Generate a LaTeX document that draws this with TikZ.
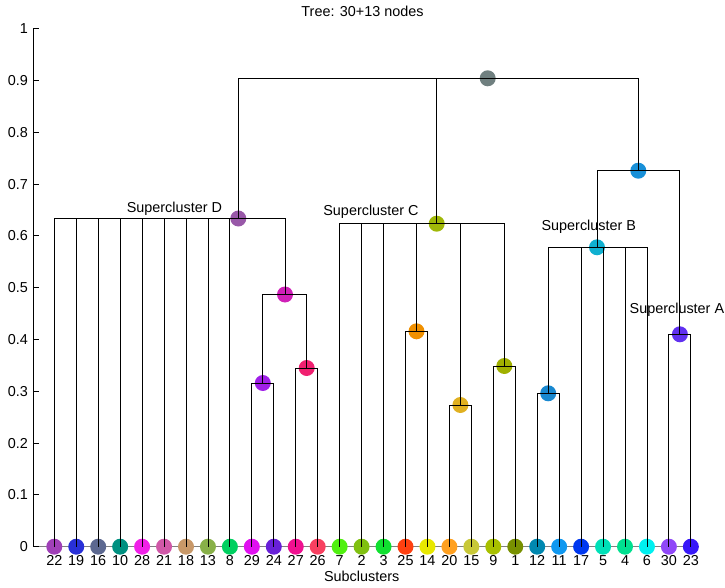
\documentclass[tikz,border=0pt]{standalone}
\usepackage{fontspec}
\setmainfont{Liberation Sans}
\begin{document}
\begin{tikzpicture}[x=1pt,y=-1pt,
  dot/.style={circle,inner sep=0pt,minimum size=16pt,draw=none},
  txt/.style={font=\fontsize{14.4}{17}\selectfont,inner sep=0pt,anchor=base},
  ticklbl/.style={txt,anchor=base east},
  br/.style={line width=0.9pt,black},
  axisline/.style={line width=0.9pt,black}]
\useasboundingbox (0,0) rectangle (725,588);
% colours of the internal nodes
\definecolor{cRoot}{HTML}{708080}
\definecolor{cD}{HTML}{9858A8}
\definecolor{cN486}{HTML}{D020B8}
\definecolor{cN316}{HTML}{A020E8}
\definecolor{cN345}{HTML}{F02070}
\definecolor{cC}{HTML}{A0B808}
\definecolor{cN416}{HTML}{F09000}
\definecolor{cN275}{HTML}{E0B020}
\definecolor{cN349}{HTML}{A0B000}
\definecolor{cN725}{HTML}{1890D8}
\definecolor{cB}{HTML}{10B0D0}
\definecolor{cA}{HTML}{6030F0}
\definecolor{cN297}{HTML}{1888D0}
% title and axis label
\node[txt] (title) at (362.5,17) {Tree: 30+13 nodes};
\node[txt] (xlabel) at (361.7,581.7) {Subclusters};
% baseline and axis
\draw[line width=0.9pt,black!50] (33,546.7) -- (690.85,546.7);
\draw[axisline] (33,29) -- (33,546.7);
\foreach \k/\t in {0/0,1/0.1,2/0.2,3/0.3,4/0.4,5/0.5,6/0.6,7/0.7,8/0.8,9/0.9,10/1}{
  \draw[axisline] (33,{546.7-51.8*\k}) -- (39,{546.7-51.8*\k});
  \node[ticklbl] at (28,{546.7-51.8*\k+5}) {\t};
}
% leaves
\foreach \i/\n/\c in {0/22/A040B8,1/19/2830D8,2/16/5C6890,3/10/009080,4/28/F020E8,
  5/21/D058A8,6/18/C89868,7/13/88B048,8/8/00D060,9/29/E010F0,10/24/6820D8,
  11/27/F01090,12/26/F84060,13/7/50F010,14/2/80C010,15/3/10E030,16/25/FF4010,
  17/14/E8E800,18/20/FFA020,19/15/C8C838,20/9/A8C000,21/1/789000,22/12/0088B0,
  23/11/1098F0,24/17/0038F0,25/5/00E0B8,26/4/00E090,27/6/00F0F0,28/30/9048F8,
  29/23/3818F8}{
  \definecolor{lc}{HTML}{\c}
  \node[dot,fill=lc] (L\n) at ({54.3+21.95*\i},546.7) {};
  \node[txt] (T\n) at ({54.3+21.95*\i},565.3) {\n};
}
% internal nodes
\node[dot,fill=cRoot] (r) at (487.7,78.3) {};
\node[dot,fill=cD] (D) at (238.3,218.5) {};
\node[dot,fill=cN486] (n486) at (285,294.5) {};
\node[dot,fill=cN316] (n316) at (262.8,383) {};
\node[dot,fill=cN345] (n345) at (306.7,368) {};
\node[dot,fill=cC] (C) at (436.7,223.7) {};
\node[dot,fill=cN416] (n416) at (416.5,331.3) {};
\node[dot,fill=cN275] (n275) at (460.4,405) {};
\node[dot,fill=cN349] (n349) at (504.3,366) {};
\node[dot,fill=cN725] (n725) at (638.3,170.7) {};
\node[dot,fill=cB] (B) at (597,247.3) {};
\node[dot,fill=cN297] (n297) at (548.2,393.3) {};
\node[dot,fill=cA] (A) at (679.9,334.3) {};
% supercluster labels
\node[txt] (lD) at (174.4,212.3) {Supercluster D};
\node[txt] (lC) at (371,215) {Supercluster C};
\node[txt] (lB) at (588.8,230) {Supercluster B};
\node[txt] (lA) at (676.9,313.3) {Supercluster A};
% branches
\foreach \c in {D,C,n725} \draw[br] (r.center) -| (\c.center);
\foreach \c in {L22,L19,L16,L10,L28,L21,L18,L13,L8,n486} \draw[br] (D.center) -| (\c.center);
\foreach \c in {n316,n345} \draw[br] (n486.center) -| (\c.center);
\foreach \c in {L29,L24} \draw[br] (n316.center) -| (\c.center);
\foreach \c in {L27,L26} \draw[br] (n345.center) -| (\c.center);
\foreach \c in {L7,L2,L3,n416,n275,n349} \draw[br] (C.center) -| (\c.center);
\foreach \c in {L25,L14} \draw[br] (n416.center) -| (\c.center);
\foreach \c in {L20,L15} \draw[br] (n275.center) -| (\c.center);
\foreach \c in {L9,L1} \draw[br] (n349.center) -| (\c.center);
\foreach \c in {B,A} \draw[br] (n725.center) -| (\c.center);
\foreach \c in {n297,L17,L5,L4,L6} \draw[br] (B.center) -| (\c.center);
\foreach \c in {L12,L11} \draw[br] (n297.center) -| (\c.center);
\foreach \c in {L30,L23} \draw[br] (A.center) -| (\c.center);
\end{tikzpicture}
\end{document}
